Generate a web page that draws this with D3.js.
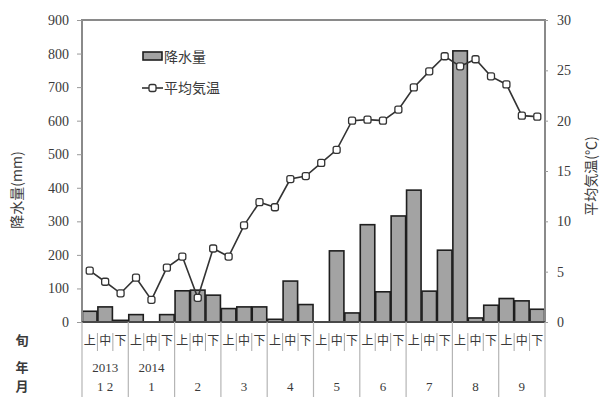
<!DOCTYPE html>
<html>
<head>
<meta charset="utf-8">
<script src="https://cdn.jsdelivr.net/npm/d3@7"></script>
<style>
  body { margin: 0; background: #fff; }
  svg { display: block; }
  text { fill: #3a3a3a; }
</style>
</head>
<body>
<svg id="chart" width="603" height="397"></svg>
<script>
// Dekads (上旬/中旬/下旬) from December 2013 to September 2014
const months = ["12", "1", "2", "3", "4", "5", "6", "7", "8", "9"];
const years = [{ month: "12", label: "2013" }, { month: "1", label: "2014" }];
const dekads = ["上", "中", "下"];
const monthLabels = ["1 2", "1", "2", "3", "4", "5", "6", "7", "8", "9"];

// Precipitation per dekad (mm)
const precipitation = [
  32, 45, 5,
  22, 0, 22,
  93, 95, 80,
  40, 45, 45,
  8, 122, 52,
  0, 212, 27,
  290, 90, 316,
  393, 92, 214,
  808, 12, 50,
  70, 63, 38
];

// Mean air temperature per dekad (°C)
const temperature = [
  5.1, 4.0, 2.85,
  4.4, 2.2, 5.4,
  6.5, 2.4, 7.3,
  6.5, 9.6, 11.9,
  11.4, 14.2, 14.5,
  15.8, 17.1, 20.0,
  20.1, 20.0, 21.1,
  23.3, 24.9, 26.4,
  25.4, 26.1, 24.4,
  23.6, 20.5, 20.4
];

const precipTicks = [0, 100, 200, 300, 400, 500, 600, 700, 800, 900];
const tempTicks = [0, 5, 10, 15, 20, 25, 30];

const slots = [];
months.forEach(m => dekads.forEach(d => slots.push(m + "-" + d)));

const svg = d3.select("#chart");
const m = { left: 82, right: 545, top: 20, bottom: 322 };
const serif = "'Liberation Serif', 'DejaVu Serif', serif";
const cjk = "'Noto Sans CJK SC', sans-serif";

const x = d3.scaleBand().domain(slots).range([m.left, m.right]).paddingInner(0.06).paddingOuter(0.03);
const yP = d3.scaleLinear().domain([0, 900]).range([m.bottom, m.top]);
const yT = d3.scaleLinear().domain([0, 30]).range([m.bottom, m.top]);
const step = (m.right - m.left) / slots.length;
const slotCenter = i => m.left + step * (i + 0.5);

// Bars: precipitation
svg.append("g").selectAll("rect").data(precipitation).join("rect")
  .attr("x", (d, i) => x(slots[i]))
  .attr("y", d => yP(d))
  .attr("width", x.bandwidth())
  .attr("height", d => Math.max(0, yP(0) - yP(d)))
  .attr("fill", "#a3a3a3")
  .attr("stroke", "#1e1e1e")
  .attr("stroke-width", 1.6);

// Line: temperature
const line = d3.line().x((d, i) => slotCenter(i)).y(d => yT(d));
svg.append("path").datum(temperature)
  .attr("d", line)
  .attr("fill", "none")
  .attr("stroke", "#333")
  .attr("stroke-width", 1.6);
svg.append("g").selectAll("rect").data(temperature).join("rect")
  .attr("x", (d, i) => slotCenter(i) - 3.5)
  .attr("y", d => yT(d) - 3.5)
  .attr("width", 7).attr("height", 7).attr("rx", 2)
  .attr("fill", "#fff")
  .attr("stroke", "#333")
  .attr("stroke-width", 1.3);

// Plot frame
svg.append("rect")
  .attr("x", m.left).attr("y", m.top)
  .attr("width", m.right - m.left).attr("height", m.bottom - m.top)
  .attr("fill", "none").attr("stroke", "#8a8a8a").attr("stroke-width", 2);
svg.append("line")
  .attr("x1", m.left).attr("x2", m.right).attr("y1", m.bottom).attr("y2", m.bottom)
  .attr("stroke", "#333").attr("stroke-width", 1.6);

// Left axis
const leftAxis = svg.append("g").attr("transform", `translate(${m.left},0)`)
  .call(d3.axisLeft(yP).tickValues(precipTicks).tickSize(5).tickPadding(8));
leftAxis.select(".domain").remove();
leftAxis.selectAll("line").attr("stroke", "#999");
leftAxis.selectAll("text").attr("font-family", serif).attr("font-size", 14).attr("fill", "#3a3a3a");

// Right axis
const rightAxis = svg.append("g").attr("transform", `translate(${m.right},0)`)
  .call(d3.axisRight(yT).tickValues(tempTicks).tickSize(3).tickPadding(9));
rightAxis.select(".domain").remove();
rightAxis.selectAll("line").attr("stroke", "#999");
rightAxis.selectAll("text").attr("font-family", serif).attr("font-size", 14).attr("fill", "#3a3a3a");

// Axis titles
svg.append("text")
  .attr("transform", "translate(22,190) rotate(-90)")
  .attr("text-anchor", "middle")
  .attr("font-family", cjk).attr("font-size", 14)
  .text("降水量(mm)");
svg.append("text")
  .attr("transform", "translate(596,176) rotate(-90)")
  .attr("text-anchor", "middle")
  .attr("font-family", cjk).attr("font-size", 14)
  .text("平均気温(℃)");

// Category rows under the axis
const rowY = { dekad: 345, year: 372, month: 391 };
const lab = svg.append("g").attr("font-family", cjk);
lab.selectAll("text.dk").data(slots).join("text")
  .attr("class", "dk")
  .attr("x", (d, i) => slotCenter(i))
  .attr("y", rowY.dekad)
  .attr("text-anchor", "middle")
  .attr("font-size", 12)
  .text(d => d.split("-")[1]);
// short separators between dekads
slots.forEach((d, i) => {
  if (i % 3 !== 0) {
    svg.append("line")
      .attr("x1", m.left + step * i).attr("x2", m.left + step * i)
      .attr("y1", 333).attr("y2", 351)
      .attr("stroke", "#aaa").attr("stroke-width", 1);
  }
});
// month separators
d3.range(months.length + 1).forEach(k => {
  const xx = m.left + step * 3 * k;
  svg.append("line")
    .attr("x1", xx).attr("x2", xx)
    .attr("y1", m.bottom).attr("y2", 397)
    .attr("stroke", "#b5b5b5").attr("stroke-width", 1.2);
});
const monthCenter = i => m.left + step * (3 * i + 1.5);
lab.selectAll("text.yr").data(years).join("text")
  .attr("class", "yr")
  .attr("x", d => monthCenter(months.indexOf(d.month)))
  .attr("y", rowY.year)
  .attr("text-anchor", "middle")
  .attr("font-family", serif).attr("font-size", 13)
  .text(d => d.label);
lab.selectAll("text.mo").data(monthLabels).join("text")
  .attr("class", "mo")
  .attr("x", (d, i) => monthCenter(i))
  .attr("y", rowY.month)
  .attr("text-anchor", "middle")
  .attr("font-family", serif).attr("font-size", 13)
  .style("white-space", "pre")
  .text(d => d);
// Row headers
[["旬", rowY.dekad], ["年", rowY.year], ["月", rowY.month]].forEach(([t, yy]) => {
  lab.append("text").attr("x", 22).attr("y", yy)
    .attr("text-anchor", "middle").attr("font-size", 13).attr("font-weight", "bold")
    .text(t);
});

// Legend
const lg = svg.append("g");
lg.append("rect").attr("x", 143).attr("y", 52).attr("width", 19).attr("height", 8)
  .attr("fill", "#a3a3a3").attr("stroke", "#1e1e1e").attr("stroke-width", 1.6);
lg.append("text").attr("x", 164).attr("y", 62).attr("font-family", cjk).attr("font-size", 14).text("降水量");
lg.append("line").attr("x1", 142).attr("x2", 163).attr("y1", 88).attr("y2", 88)
  .attr("stroke", "#333").attr("stroke-width", 1.6);
lg.append("rect").attr("x", 149).attr("y", 84.5).attr("width", 7).attr("height", 7).attr("rx", 2)
  .attr("fill", "#fff").attr("stroke", "#333").attr("stroke-width", 1.3);
lg.append("text").attr("x", 164).attr("y", 93).attr("font-family", cjk).attr("font-size", 14).text("平均気温");
</script>
</body>
</html>
